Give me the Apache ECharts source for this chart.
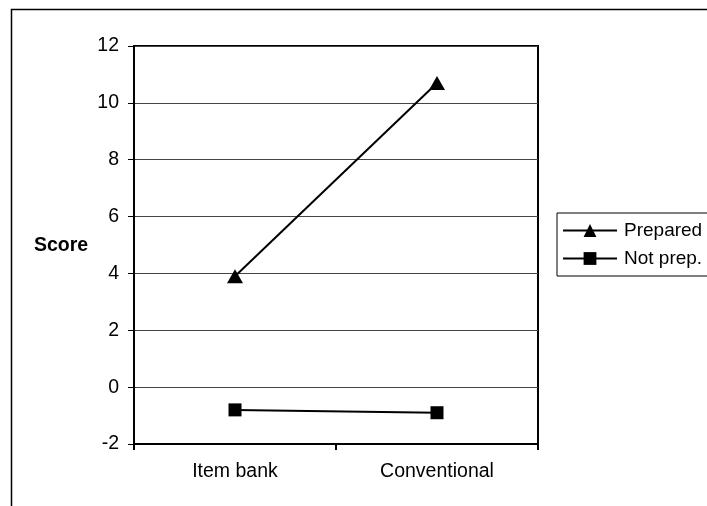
<!DOCTYPE html>
<html><head><meta charset="utf-8">
<script src="https://cdn.jsdelivr.net/npm/echarts@6/dist/echarts.min.js"></script>
<style>html,body{margin:0;padding:0;background:#fff}#c{width:707px;height:506px}</style>
</head><body><div id="c"></div>
<script>
const categories = ['Item bank', 'Conventional'];
const prepared = [3.9, 10.7];
const notPrep = [-0.8, -0.9];
const seriesNames = ['Prepared', 'Not prep.'];
const yLabel = 'Score';

const chart = echarts.init(document.getElementById('c'), null, {renderer: 'canvas'});
const font = 'Liberation Sans, Arial, sans-serif';
chart.setOption({
  animation: false,
  graphic: [
    {type: 'rect', shape: {x: 11.5, y: 9.5, width: 720, height: 520}, style: {fill: 'none', stroke: '#000', lineWidth: 1.5}},
    {type: 'text', x: 34, y: 246, style: {text: yLabel, font: 'bold 19.5px ' + font, fill: '#000', verticalAlign: 'middle'}}
  ],
  grid: {left: 134, top: 46, right: 169, bottom: 62, show: true, borderColor: '#000', borderWidth: 2},
  legend: {
    orient: 'vertical', left: 557, top: 213, itemWidth: 54, itemHeight: 16, itemGap: 9,
    borderColor: '#000', borderWidth: 1, borderRadius: 0, padding: [8, 60, 8, 5],
    textStyle: {fontFamily: font, fontSize: 19, color: '#000', padding: [0,0,0,2]},
    data: seriesNames
  },
  xAxis: {
    type: 'category', data: categories, boundaryGap: true,
    axisLine: {onZero: false, lineStyle: {color: '#000', width: 2}},
    axisTick: {show: true, inside: false, length: 6, interval: 0, lineStyle: {color: '#000', width: 2}},
    axisLabel: {fontFamily: font, fontSize: 19.5, color: '#000', margin: 18}
  },
  yAxis: {
    type: 'value', min: -2, max: 12, interval: 2,
    axisLine: {show: true, lineStyle: {color: '#000', width: 2}},
    axisTick: {show: true, inside: false, length: 6, lineStyle: {color: '#000'}},
    axisLabel: {fontFamily: font, fontSize: 19.5, color: '#000', margin: 15},
    splitLine: {show: true, lineStyle: {color: '#444', width: 1}}
  },
  series: [
    {name: seriesNames[0], type: 'line', data: prepared, symbol: 'triangle', symbolSize: [16, 14],
     lineStyle: {color: '#000', width: 2}, itemStyle: {color: '#000'}},
    {name: seriesNames[1], type: 'line', data: notPrep, symbol: 'rect', symbolSize: 13,
     lineStyle: {color: '#000', width: 2}, itemStyle: {color: '#000'}}
  ]
});
</script></body></html>
